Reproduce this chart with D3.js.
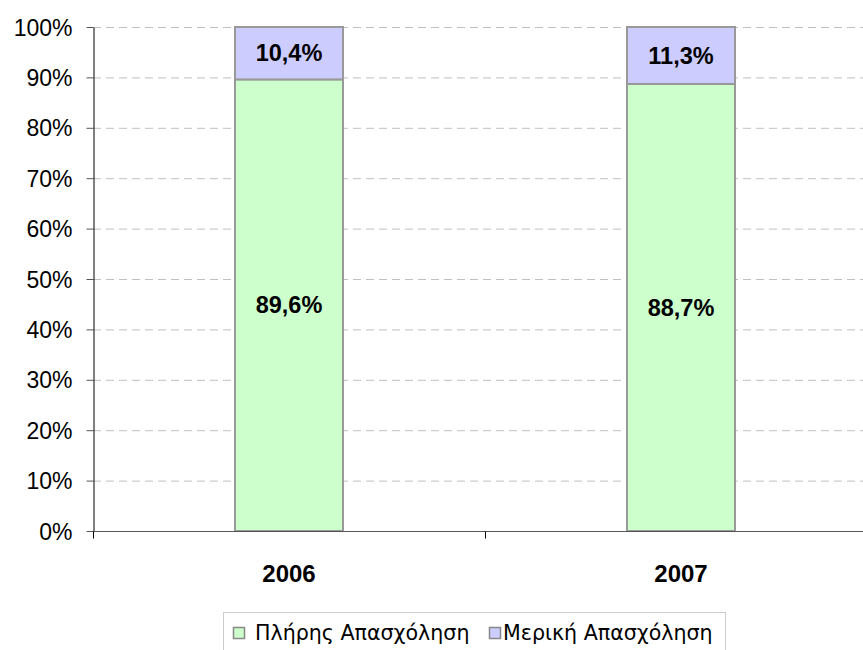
<!DOCTYPE html>
<html><head><meta charset="utf-8">
<script src="https://cdn.jsdelivr.net/npm/d3@7"></script>
<style>body{margin:0;background:#fff}svg{display:block}text{font-family:"Liberation Sans",Arial,sans-serif}</style>
</head><body>
<svg id="c" width="863" height="650"></svg>
<script>
const years = ["2006", "2007"];
const seriesNames = ["Πλήρης Απασχόληση", "Μερική Απασχόληση"];
const fullTime = [89.6, 88.7];
const partTime = [10.4, 11.3];
const yTicks = [0,10,20,30,40,50,60,70,80,90,100];
const colors = ["#ccffcc", "#ccccff"];

(function () {
const svg = d3.select("#c");
const mLeft = 93, mRight = 877, mTop = 27, mBottom = 531;
const x = d3.scaleBand().domain(years).range([mLeft, mRight]);
const y = d3.scaleLinear().domain([0, 100]).range([mBottom, mTop]);

// grid
svg.append("g").selectAll("line").data(yTicks.filter(d => d > 0)).join("line")
  .attr("x1", mLeft).attr("x2", 863).attr("y1", d => y(d) + 0.5).attr("y2", d => y(d) + 0.5)
  .attr("stroke", "#c0c0c0").attr("stroke-dasharray", "8,5").attr("stroke-width", 1);

// y axis
const ya = svg.append("g").attr("transform", `translate(${mLeft + 0.5},0)`)
  .call(d3.axisLeft(y).tickValues(yTicks).tickFormat(d => d + "%").tickSize(7).tickSizeOuter(0));
ya.select(".domain").attr("stroke", "#000");
ya.selectAll(".tick line").attr("stroke", "#555");
ya.selectAll("text").attr("font-size", 23).attr("fill", "#000").attr("x", -21).attr("dy", "0.35em")
  .style("font-family", '"Liberation Sans",Arial,sans-serif');

// stacked data
const stackData = years.map((yr, i) => ({year: yr, full: fullTime[i], part: partTime[i]}));
const stack = d3.stack().keys(["full", "part"])(stackData);
const bw = 108;

svg.append("g").selectAll("g").data(stack).join("g")
  .attr("fill", (d, i) => colors[i])
  .selectAll("rect").data(d => d).join("rect")
  .attr("x", d => x(d.data.year) + x.bandwidth() / 2 - bw / 2)
  .attr("width", bw)
  .attr("y", d => y(d[1]))
  .attr("height", d => y(d[0]) - y(d[1]))
  .attr("stroke", "#999").attr("stroke-width", 2);

// labels
stack.forEach((s) => {
  svg.append("g").selectAll("text").data(s).join("text")
    .attr("x", d => x(d.data.year) + x.bandwidth() / 2)
    .attr("y", d => y((d[0] + d[1]) / 2))
    .attr("dy", "0.35em").attr("text-anchor", "middle")
    .attr("font-size", 23.5).attr("font-weight", "bold")
    .text(d => (d[1] - d[0]).toFixed(1).replace(".", ",") + "%");
});

// x axis
const xa = svg.append("g").attr("transform", `translate(0,${mBottom + 0.5})`);
xa.append("line").attr("x1", mLeft).attr("x2", 863).attr("y1", 0).attr("y2", 0).attr("stroke", "#555");
xa.selectAll("line.t").data([mLeft, x("2007"), mRight]).join("line").attr("class", "t")
  .attr("x1", d => d + 0.5).attr("x2", d => d + 0.5).attr("y1", 0).attr("y2", 7).attr("stroke", "#000");
xa.selectAll("text").data(years).join("text")
  .attr("x", d => x(d) + x.bandwidth() / 2).attr("y", 50)
  .attr("text-anchor", "middle").attr("font-size", 24).attr("font-weight", "bold").text(d => d);

// legend
const lg = svg.append("g");
lg.append("rect").attr("x", 223.5).attr("y", 612.5).attr("width", 502).attr("height", 50)
  .attr("fill", "#fff").attr("stroke", "#ccc");
const items = [{x: 233, tx: 255, name: seriesNames[0], c: colors[0]}, {x: 489, tx: 503, name: seriesNames[1], c: colors[1]}];
items.forEach(it => {
  lg.append("rect").attr("x", it.x + 0.5).attr("y", 627.5).attr("width", 11).attr("height", 11)
    .attr("fill", it.c).attr("stroke", "#888").attr("stroke-width", 1.5);
  lg.append("text").attr("x", it.tx).attr("y", 639.5).attr("font-size", 20.6)
    .style("font-family", '"DejaVu Sans",sans-serif').text(it.name);
});
})();
</script>
</body></html>
